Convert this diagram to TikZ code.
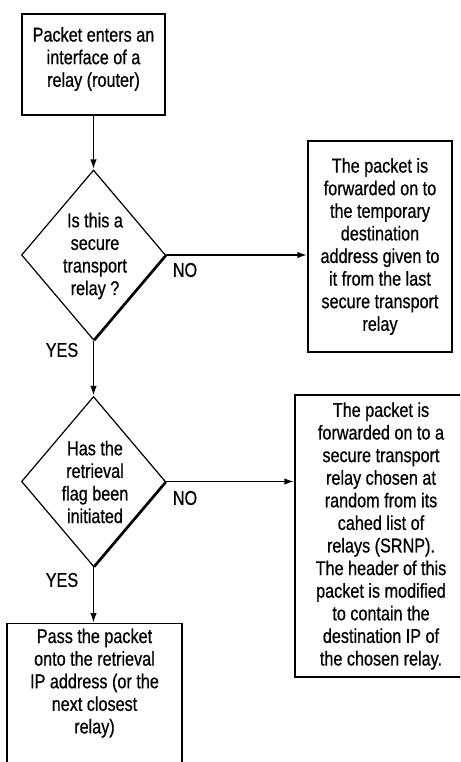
\documentclass[tikz,border=0pt]{standalone}
\usepackage{fontspec}
\newfontfamily\flowfont[FakeStretch=0.81, FakeBold=0.6]{Liberation Sans}
\usetikzlibrary{arrows.meta,shapes.geometric,shadows}

\tikzset{
	flowtext/.style={font=\flowfont\fontsize{20}{22.6}\selectfont, align=center},
	box/.style={flowtext, draw, line width=1.4pt, fill=white, inner sep=0pt,
		drop shadow={shadow xshift=1.3pt, shadow yshift=-1.3pt, fill=black, opacity=1}},
	decision/.style={draw, diamond, line width=1.2pt, fill=white, inner sep=0pt,
		minimum width=144pt, minimum height=170pt,
		drop shadow={shadow xshift=1.5pt, shadow yshift=-1.5pt, fill=black, opacity=1}},
	flow/.style={line width=1.8pt, -{Latex[length=10pt,width=6.5pt]}}
}

\begin{document}
\begin{tikzpicture}[x=1pt, y=-1pt]
			%%%%% START %%%%%
			\useasboundingbox (0,0) rectangle (460,762);
			\clip (0,0) rectangle (460,762);
			
			\node[box, minimum width=143pt, minimum height=101pt] (enter) at (93.5,64.5) {};
			\node[flowtext] (entertext) at (93.5,59) {Packet enters an\\interface of a\\relay (router)};
			
			\node[decision] (secure) at (93.5,255) {};
			\node[flowtext] (securetext) at (95,256) {Is this a\\secure\\transport\\relay ?};
			
			\node[box, minimum width=144pt, minimum height=211pt] (tempaddr) at (380,246.5) {The packet is\\forwarded on to\\the temporary\\destination\\address given to\\it from the last\\secure transport\\relay};
			
			\node[decision] (retrieval) at (93.5,481.5) {};
			\node[flowtext] (retrievaltext) at (95,482) {Has the\\retrieval\\flag been\\initiated};
			
			\node[box, minimum width=172pt, minimum height=282pt] (randrelay) at (381,536) {The packet is\\forwarded on to a\\secure transport\\relay chosen at\\random from its\\cahed list of\\relays (SRNP).\\The header of this\\packet is modified\\to contain the\\destination IP of\\the chosen relay.};
			
			\node[box, minimum width=175pt, minimum height=180pt, anchor=north] (passon) at (94.5,623) {};
			\node[flowtext, anchor=north] (passtext) at (94.5,625) {Pass the packet\\onto the retrieval\\IP address (or the\\next closest\\relay)};
			
			\node[flowtext] (no1) at (185,270) {NO};
			\node[flowtext] (yes1) at (62,350) {YES};
			\node[flowtext] (no2) at (185,498) {NO};
			\node[flowtext] (yes2) at (62,580) {YES};
			
			\draw[flow] (enter) -- (secure);
			\draw[flow] (secure.east) -- (secure.east -| tempaddr.west);
			\draw[flow] (secure) -- (retrieval);
			\draw[flow] (retrieval.east) -- (retrieval.east -| randrelay.west);
			\draw[flow] (retrieval.south) -- (retrieval.south |- passon.north);
			
			%%%%% END %%%%%
		\end{tikzpicture}
\end{document}
